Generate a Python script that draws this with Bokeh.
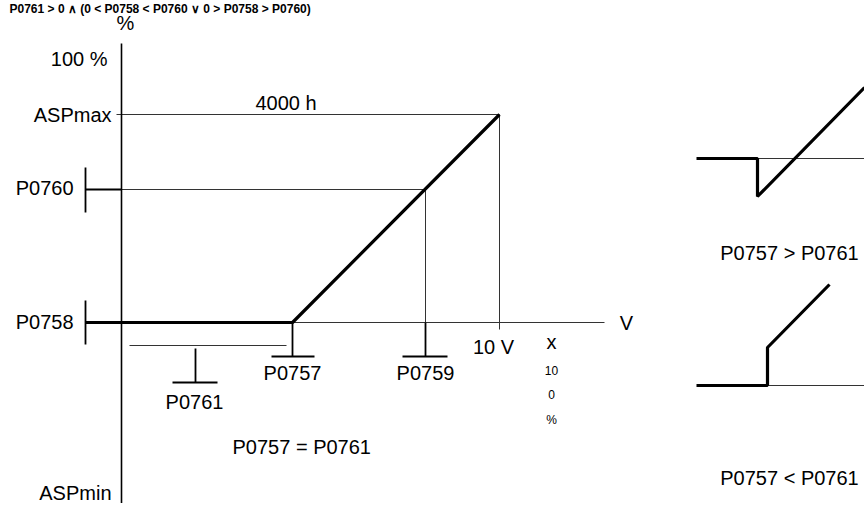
from bokeh.plotting import figure
from bokeh.models import Range1d, ColumnDataSource
from bokeh.embed import file_html
from bokeh.resources import INLINE
from bokeh.core.properties import value

FONT = "Liberation Sans"

# ---- characteristic levels / positions (diagram units = reference pixels) ----
y_pct = 60          # 100 %
y_aspmax = 115      # ASPmax
y_p0760 = 190       # P0760
y_p0758 = 323       # P0758 (also V axis)
y_aspmin = 493      # ASPmin
x_axis = 122        # % axis
x_p0757 = 293
x_p0759 = 426
x_10v = 500
x_tick = 86         # left parameter ticks

# main characteristic curve
curve_x = [x_tick, x_axis, x_p0757, x_10v]
curve_y = [y_p0758, y_p0758, y_p0758, y_aspmax]

# inset: P0757 > P0761
ins1_x = [697, 758, 758, 865]
ins1_y = [159, 159, 197, 88]
# inset: P0757 < P0761
ins2_x = [697, 768, 768, 830]
ins2_y = [386, 386, 348, 285]

title_text = "P0761 > 0 \u2227 (0 < P0758 < P0760 \u2228 0 > P0758 > P0760)"

labels = ["%", "100 %", "ASPmax", "P0760", "P0758", "ASPmin", "4000 h",
          "P0757", "P0759", "P0761", "10 V", "V", "x", "P0757 = P0761",
          "P0757 > P0761", "P0757 < P0761"]
lab_x = [126, 108, 112, 74, 74, 112, 256, 293, 426, 195, 494, 627, 552, 233, 790, 790]
lab_y = [23, 59, 115, 188, 322, 493, 103, 373, 373, 402, 347, 323, 342, 447, 253, 478]
lab_align = ["center", "right", "right", "right", "right", "right", "left",
             "center", "center", "center", "center", "center", "center", "left",
             "center", "center"]

small_labels = ["10", "0", "%"]
small_x = [552, 552, 552]
small_y = [371, 395, 420]

W, H = 864, 503
X0, Y0 = 1, 1
p = figure(width=W, height=H, output_backend="svg", toolbar_location=None,
           x_range=Range1d(X0, X0 + W), y_range=Range1d(Y0 + H, Y0),
           min_border=0, outline_line_color=None)
p.axis.visible = False
p.grid.visible = False

# heading at the very top
p.text(x=[10], y=[2], text=[title_text], text_align="left", text_baseline="top",
       text_font=value(FONT), text_font_size="12px", text_font_style="bold",
       text_color="black")

# thin reference lines
thin = dict(
    x0=[x_axis, x_axis, x_p0759, x_10v, x_p0757, 130, 758, 768],
    y0=[y_aspmax, y_p0760, y_p0760, y_aspmax, y_p0758, 346, 159, 386],
    x1=[x_10v, x_p0759, x_p0759, x_10v, 605, 287, 868, 868],
    y1=[y_aspmax, y_p0760, y_p0758, 330, y_p0758, 346, 159, 386],
)
p.segment(x0="x0", y0="y0", x1="x1", y1="y1", source=ColumnDataSource(thin),
          line_color="#333333", line_width=1)

# ASPmax tick stub left of axis
p.segment(x0=[117], y0=[y_aspmax], x1=[x_axis], y1=[y_aspmax],
          line_color="#333333", line_width=1)

# vertical % axis
p.segment(x0=[x_axis], y0=[44], x1=[x_axis], y1=[506], line_color="black", line_width=1.6)

# parameter ticks
ticks = dict(
    x0=[x_tick, x_tick, x_tick, x_p0757, 272, x_p0759, 403, 196, 173],
    y0=[168, 301, y_p0760, y_p0758, 357, y_p0758, 357, 349, 383],
    x1=[x_tick, x_tick, x_axis, x_p0757, 315, x_p0759, 448, 196, 218],
    y1=[213, 345, y_p0760, 357, 357, 357, 357, 383, 383],
)
p.segment(x0="x0", y0="y0", x1="x1", y1="y1", source=ColumnDataSource(ticks),
          line_color="black", line_width=1.8)

# characteristic curves (thick)
p.line(curve_x, curve_y, line_color="black", line_width=3.2)
p.line(ins1_x, ins1_y, line_color="black", line_width=3.2)
p.line(ins2_x, ins2_y, line_color="black", line_width=3.2)

src = ColumnDataSource(dict(x=lab_x, y=lab_y, t=labels, a=lab_align))
p.text(x="x", y="y", text="t", text_align="a", source=src, text_baseline="middle",
       text_font=value(FONT), text_font_size="20px", text_color="black")

p.text(x=small_x, y=small_y, text=small_labels, text_align="center", text_baseline="middle",
       text_font=value(FONT), text_font_size="12px", text_color="black")

open("out.html", "w").write(file_html(p, INLINE))
